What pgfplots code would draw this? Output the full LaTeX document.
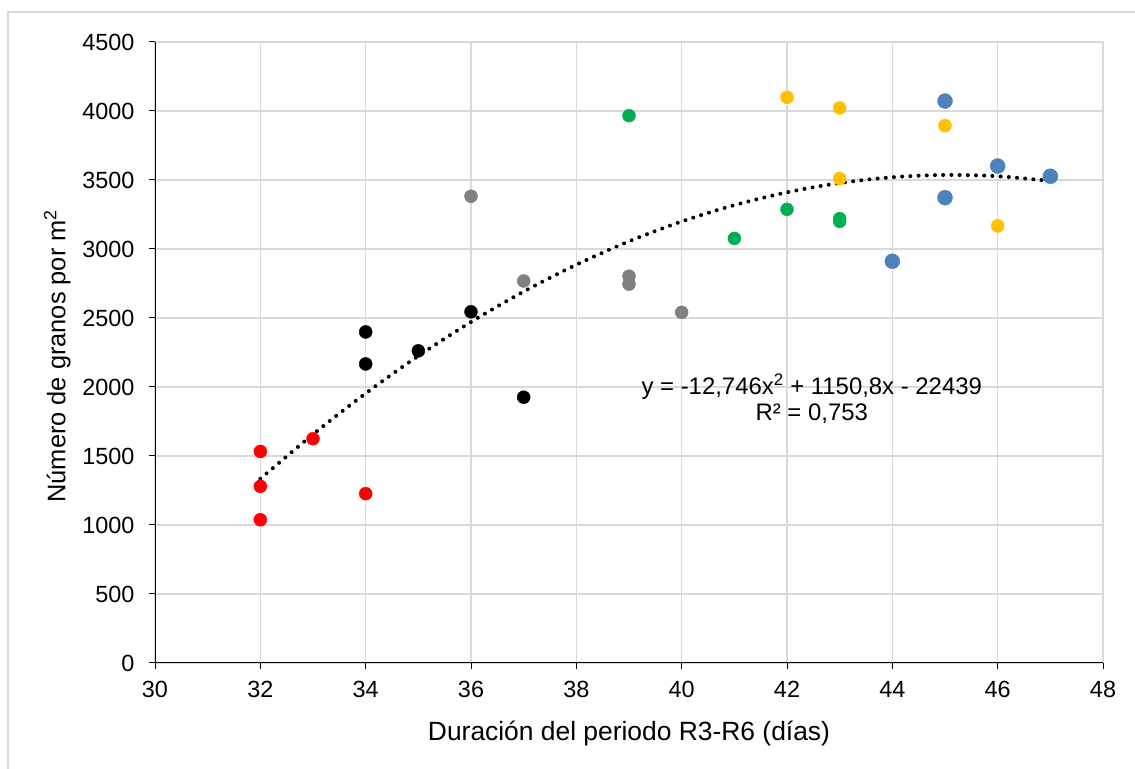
\documentclass[border=0pt]{standalone}
\usepackage{pgfplots}
\pgfplotsset{compat=1.18}
\usepackage{fontspec}
\setmainfont{Liberation Sans}
\definecolor{gridgray}{HTML}{D9D9D9}
\definecolor{ptred}{HTML}{FF0000}
\definecolor{ptgray}{HTML}{808080}
\definecolor{ptgreen}{HTML}{00B050}
\definecolor{ptyellow}{HTML}{FFC000}
\definecolor{ptblue}{HTML}{4F81BD}
\begin{document}
\begin{tikzpicture}[x=1bp,y=1bp]
% frame around the chart
\draw[gridgray, line width=1.5bp] (8,0) -- (8,757) -- (1135,757);
\begin{axis}[
  at={(155bp,106bp)}, anchor=south west,
  scale only axis, width=948bp, height=621bp,
  xmin=30, xmax=48, ymin=0, ymax=4500,
  xtick={30,32,...,48}, ytick={0,500,...,4500},
  axis x line*=bottom, axis y line*=left,
  axis line style={black, line width=1bp, -},
  grid=major, major grid style={gridgray, line width=1.4bp},
  tick align=outside, major tick length=6bp,
  tick style={black, line width=1bp},
  /pgf/number format/assume math mode=true,
  /pgf/number format/1000 sep={},
  ticklabel style={font=\fontsize{23.5}{26}\selectfont},
  xticklabel style={yshift=-9bp},
  yticklabel style={xshift=-11bp},
  xlabel={Duración del periodo R3-R6 (días)},
  ylabel={Número de granos por m\textsuperscript{2}},
  xlabel style={font=\fontsize{26.5}{30}\selectfont, at={(axis description cs:0.5,-0.113)}, anchor=center},
  ylabel style={font=\fontsize{25.5}{30}\selectfont, at={(axis description cs:-0.103,0.494)}, anchor=center},
  clip=false,
]
% fitted quadratic trend, sampled at whole days
\addplot[black, line width=4bp, line cap=round, dash pattern=on 0.01bp off 8.2bp, smooth] coordinates {
  (32,1334.7) (33,1657.0) (34,1953.8) (35,2225.1) (36,2471.0) (37,2691.3)
  (38,2886.2) (39,3055.5) (40,3199.4) (41,3317.8) (42,3410.7) (43,3478.0)
  (44,3519.9) (45,3536.3) (46,3527.3) (47,3492.7)};
\addplot[only marks, mark=*, mark size=6.5bp, ptred, mark options={draw=ptred, fill=ptred}] coordinates {
  (32,1533) (32,1280) (32,1038) (33,1625) (34,1227)};
\addplot[only marks, mark=*, mark size=6.5bp, black] coordinates {
  (34,2399) (34,2167) (35,2262) (36,2545) (37,1926)};
\addplot[only marks, mark=*, mark size=6.5bp, ptgray, mark options={draw=ptgray, fill=ptgray}] coordinates {
  (36,3382) (37,2768) (39,2803) (39,2745) (40,2541)};
\addplot[only marks, mark=*, mark size=6.5bp, ptgreen, mark options={draw=ptgreen, fill=ptgreen}] coordinates {
  (39,3966) (41,3077) (42,3287) (43,3220) (43,3200)};
\addplot[only marks, mark=*, mark size=6.5bp, ptyellow, mark options={draw=ptyellow, fill=ptyellow}] coordinates {
  (42,4099) (43,4022) (43,3510) (45,3894) (46,3167)};
\addplot[only marks, mark=*, mark size=7.5bp, ptblue, mark options={draw=ptblue, fill=ptblue}] coordinates {
  (45,4072) (45,3372) (46,3601) (47,3527) (44,2911)};
\node[align=center, font=\fontsize{24}{26}\selectfont, inner sep=0pt] at (axis cs:42.47,1913)
  {y = -12,746x\textsuperscript{2} + 1150,8x - 22439\\R² = 0,753};
\end{axis}
\pgfresetboundingbox
\path[use as bounding box] (0,0) rectangle (1135,769);
\end{tikzpicture}
\end{document}
